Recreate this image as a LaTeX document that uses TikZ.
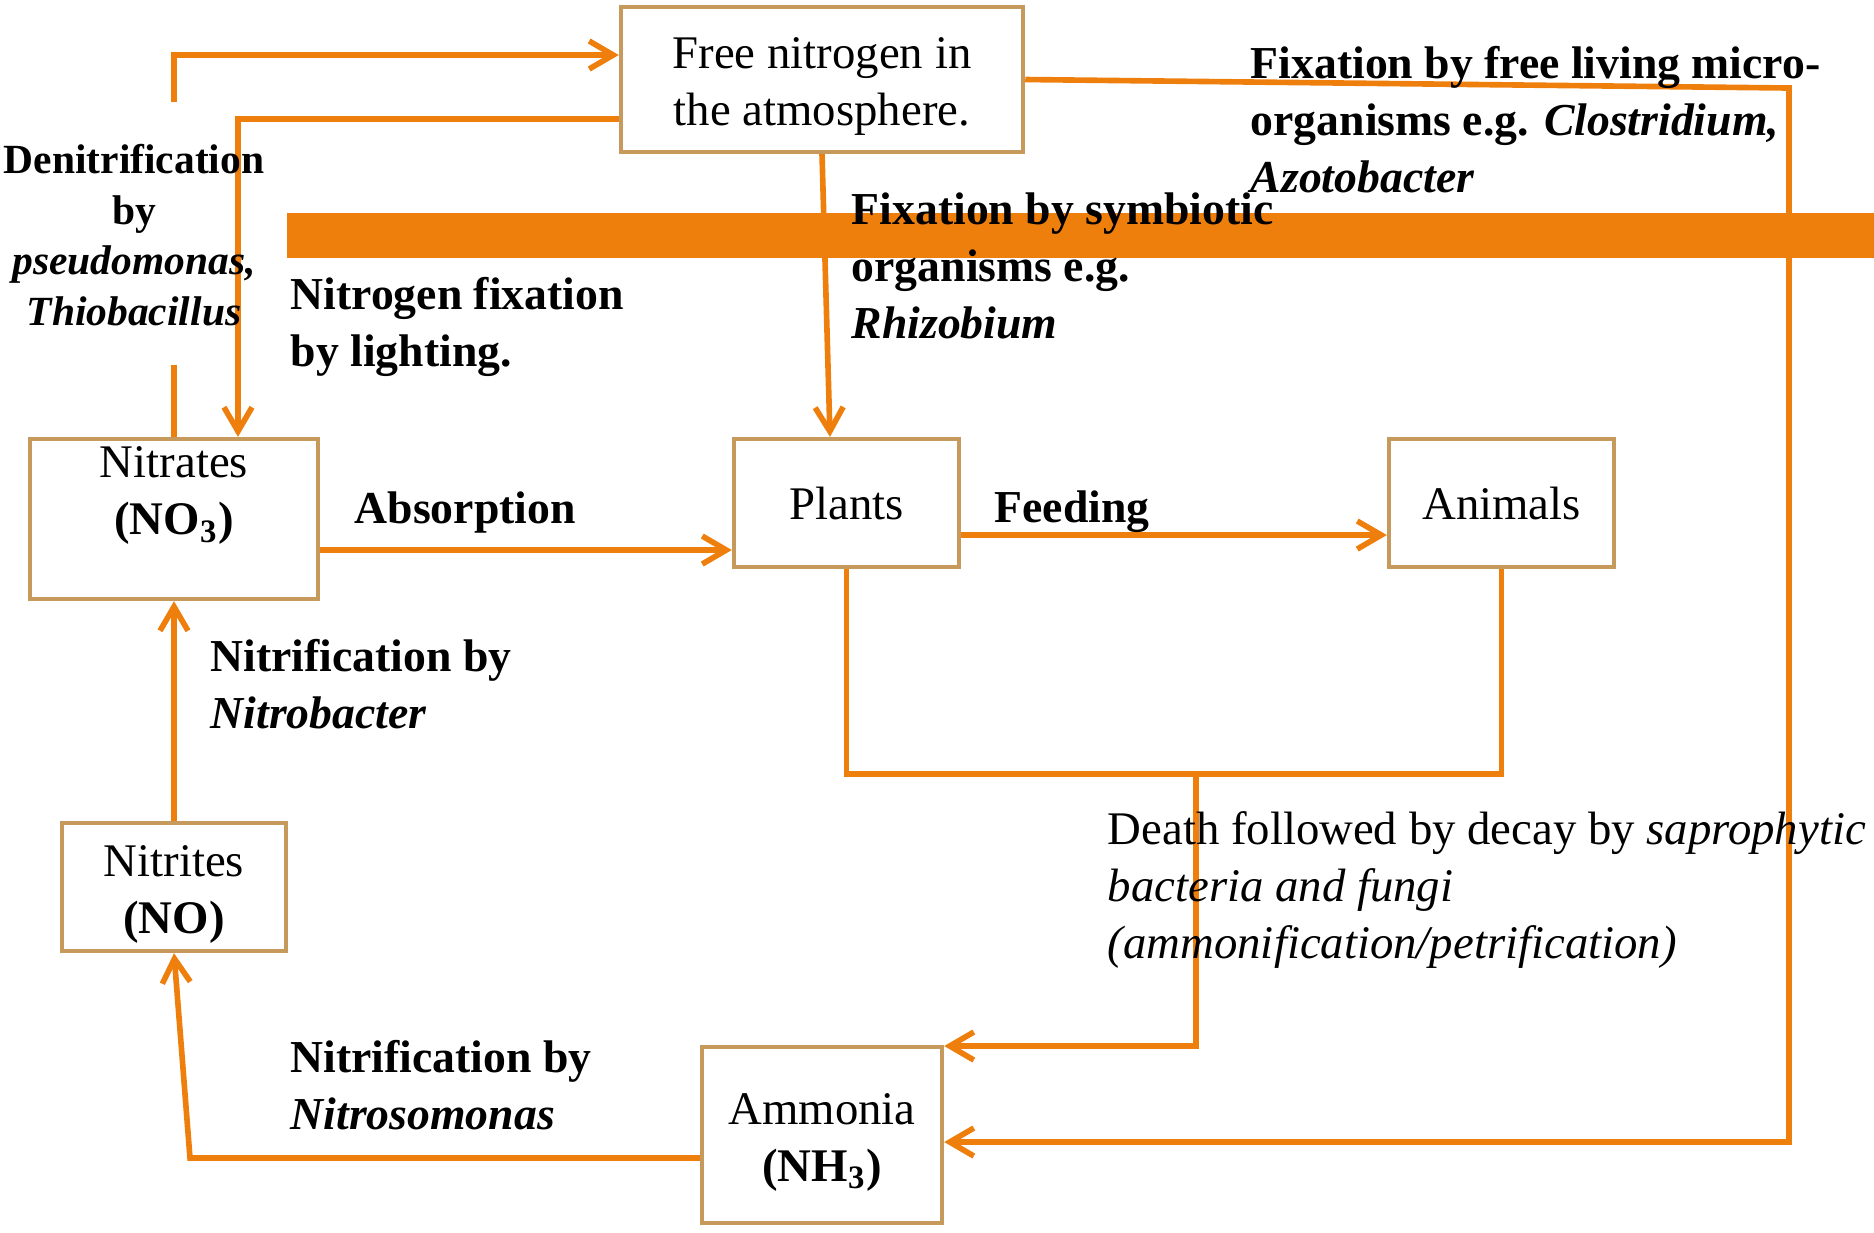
\documentclass[tikz,border=0pt]{standalone}
\usepackage{fontspec}
\setmainfont{Liberation Serif}
\usetikzlibrary{arrows.meta}

\definecolor{flow}{RGB}{239,127,13}
\definecolor{boxline}{RGB}{198,153,92}
\newcommand\cyclefont{\fontsize{13.3}{16.2}\selectfont}
\newcommand\labelfont{\fontsize{13}{16.2}\selectfont\bfseries}
\newcommand\denitfont{\fontsize{11.8}{14.4}\selectfont\bfseries}
\newcommand\topgap{\rule{0pt}{13pt}}

\tikzset{
  box/.style={draw=boxline, line width=1.2pt, align=center, inner sep=0pt, font=\cyclefont},
  lbl/.style={anchor=west, align=left, inner sep=0pt, font=\labelfont},
  flowline/.style={draw=flow, line width=1.6pt},
}

\begin{document}
\begin{tikzpicture}[x=0.01cm, y=-0.01cm, >={Straight Barb[length=2.4mm,width=2.8mm]}]
\useasboundingbox (0,0) rectangle (1874,1232);

% compartments
\node[box, minimum width=4.02cm, minimum height=1.45cm] (atmos) at (822,79.5) {\topgap Free nitrogen in\\the atmosphere.};
\node[box, minimum width=2.88cm, minimum height=1.60cm] (nitrates) at (174,519) {Nitrates\\\textbf{(NO\textsubscript{3})}\\\mbox{}};
\node[box, minimum width=2.25cm, minimum height=1.28cm] (plants) at (846.5,503) {Plants};
\node[box, minimum width=2.25cm, minimum height=1.28cm] (animals) at (1501.5,503) {Animals};
\node[box, minimum width=2.24cm, minimum height=1.28cm] (nitrites) at (174,887) {\topgap Nitrites\\\textbf{(NO)}};
\node[box, minimum width=2.40cm, minimum height=1.76cm] (ammonia) at (822,1135) {\topgap Ammonia\\\textbf{(NH\textsubscript{3})}};

% bend points
\coordinate (dn1) at (174,365);
\coordinate (dn2) at (174,102);
\coordinate (dn3) at (174,55);
\coordinate (ad) at (238,119);
\coordinate (fl1) at (1789,88);
\coordinate (fl2) at (1789,1142);
\coordinate (dd) at (1196,774);
\coordinate (dd2) at (1196,1046);
\coordinate (nm) at (190,1158);

% arrows
\draw[flowline] (nitrates.north) -- (dn1);
\draw[flowline,->] (dn2) -- (dn3) -- (atmos.west |- dn3);
\draw[flowline,->] (atmos.west |- ad) -- (ad) -- (ad |- nitrates.north);
\draw[flowline,->] (atmos.south) -- ([xshift=-1.65mm]plants.north);
\draw[flowline,->] (atmos.east) -- (fl1) -- (fl2) -- (ammonia.east |- fl2);
\draw[flowline,->] ([yshift=-3.1mm]nitrates.east) -- ([yshift=-3.1mm]nitrates.east -| plants.west);
\draw[flowline,->] ([yshift=-3.2mm]plants.east) -- ([yshift=-3.2mm]animals.west);
\draw[flowline] (plants.south) |- (dd) -| (animals.south);
\draw[flowline,->] (dd) -- (dd2) -- (ammonia.east |- dd2);
\draw[flowline,->] (ammonia.west |- nm) -- (nm) -- (nitrites.south);
\draw[flowline,->] (nitrites.north) -- (nitrates.south);

% thick band
\fill[flow] (287,213) rectangle (1874,258);

% labels
\node[lbl, anchor=center, align=center, font=\denitfont] (denit) at (134,235) {Denitrification\\by\\\textit{pseudomonas,}\\\textit{Thiobacillus}};
\node[lbl] (lightning) at (290,327) {Nitrogen fixation\\by lighting.};
\node[lbl] (symb) at (851,266) {Fixation by symbiotic\\organisms e.g.\\\textit{Rhizobium}};
\node[lbl] (freeliving) at (1250,120) {Fixation by free living micro-\\organisms e.g. \textit{Clostridium,}\\\textit{Azotobacter}};
\node[lbl] (absorb) at (354,512) {Absorption};
\node[lbl] (feed) at (994,512) {Feeding};
\node[lbl] (nitrob) at (210,684) {Nitrification by\\\textit{Nitrobacter}};
\node[lbl] (nitros) at (290,1085) {Nitrification by\\\textit{Nitrosomonas}};
\node[lbl, font=\cyclefont] (decay) at (1107,890) {Death followed by decay by \textit{saprophytic}\\\textit{bacteria and fungi}\\\textit{(ammonification/petrification)}};

\end{tikzpicture}
\end{document}
